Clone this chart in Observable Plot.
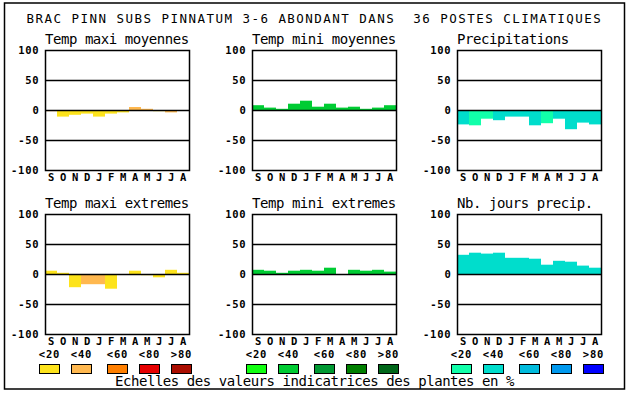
<!DOCTYPE html>
<html><head><meta charset="utf-8">
<script src="https://cdn.jsdelivr.net/npm/d3@7"></script>
<script src="https://cdn.jsdelivr.net/npm/@observablehq/plot@0.6"></script>
<style>
body{margin:0;background:#fff;}
#chart{position:relative;width:630px;height:394px;background:#fff;overflow:hidden;}
#chart svg{position:absolute;}
#chart text{white-space:pre;}
</style></head><body><div id="chart"></div>
<script>
// ---- data ----
const months = ["S","O","N","D","J","F","M","A","M","J","J","A"];
const yTicks = [-100, -50, 0, 50, 100];
const gridLines = [-50, 0, 50];
const legendLabels = ["<20", "<40", "<60", "<80", ">80"];
const mainTitle = "BRAC PINN SUBS PINNATUM 3-6 ABONDANT DANS  36 POSTES CLIMATIQUES";
const footer = "Echelles des valeurs indicatrices des plantes en %";

const redScale = ["#fde31c", "#ffb84f", "#ff7f00", "#e60000", "#aa0d00"];
const greenScale = ["#11ff11", "#00cc33", "#009933", "#007f00", "#006619"];
const blueScale = ["#11ffaa", "#00ddcc", "#00bbdd", "#0099ee", "#0000ff"];

const titles = ["Temp maxi moyennes", "Temp mini moyennes", "Precipitations",
                "Temp maxi extremes", "Temp mini extremes", "Nb. jours precip."];

const tmaxMoy    = [-2, -11, -8, -6, -11, -6, -4, 5, 2, -2, -4, 0];
const tmaxMoyCls = [2, 1, 1, 1, 1, 1, 1, 2, 2, 1, 2, 1];
const tminMoy    = [8, 4, 2, 10.5, 15.5, 5.5, 10.5, 4, 5.5, 2, 4, 8];
const tminMoyCls = [2, 2, 2, 2, 2, 2, 2, 2, 2, 2, 2, 2];
const precip     = [-24, -25.5, -14.5, -17, -11, -11, -25.5, -22, -14.5, -32, -21, -24];
const precipCls  = [2, 1, 1, 2, 2, 2, 2, 1, 2, 2, 2, 2];
const tmaxExt    = [5.5, 2, -22, -17, -17, -24.5, 0, 5.5, -2, -5.5, 7, 2];
const tmaxExtCls = [1, 1, 1, 2, 2, 1, 1, 1, 1, 1, 1, 1];
const tminExt    = [7, 5.5, 2, 5.5, 7, 5.5, 10.5, 0, 7, 5.5, 7, 4];
const tminExtCls = [2, 2, 2, 2, 2, 2, 2, 2, 2, 2, 2, 2];
const nbJours    = [32, 35.5, 34, 35.5, 27, 27, 25.5, 15.5, 22, 20.5, 14, 10.5];
const nbJoursCls = [2, 2, 2, 2, 2, 2, 2, 2, 2, 2, 2, 2];

// ---- layout ----
const plotLefts = [45, 252, 457];
const plotTops = [50, 214];
const PW = 144, PH = 120;
const ML = 45, MR = 12, MT = 20, MB = 22;

const panels = [
  {v: tmaxMoy, c: tmaxMoyCls, pal: redScale},
  {v: tminMoy, c: tminMoyCls, pal: greenScale},
  {v: precip, c: precipCls, pal: blueScale},
  {v: tmaxExt, c: tmaxExtCls, pal: redScale},
  {v: tminExt, c: tminExtCls, pal: greenScale},
  {v: nbJours, c: nbJoursCls, pal: blueScale}
];

const chart = document.getElementById("chart");

panels.forEach((p, k) => {
  const col = k % 3, row = Math.floor(k / 3);
  const data = p.v.map((v, i) => ({i, v, c: p.c[i]}));
  const svg = Plot.plot({
    width: ML + PW + MR, height: MT + PH + MB,
    marginLeft: ML, marginRight: MR, marginTop: MT, marginBottom: MB,
    style: {fontFamily: "DejaVu Sans Mono", fontSize: "10.5px", fontWeight: "bold",
            letterSpacing: "0.8px", background: "transparent", overflow: "visible", color: "black"},
    x: {type: "band", domain: d3.range(12), padding: 0, label: null},
    y: {domain: [-100, 100], label: null},
    color: {type: "ordinal", domain: [1, 2, 3, 4, 5], range: p.pal},
    marks: [
      Plot.barY(data, {x: "i", y: "v", fill: "c"}),
      Plot.ruleY(gridLines, {stroke: "black", strokeWidth: 1.5}),
      Plot.frame({stroke: "black", strokeWidth: 1.5}),
      Plot.axisY({ticks: yTicks, tickSize: 0, tickPadding: 6, tickFormat: d => String(d), label: null, fill: "black"}),
      Plot.axisX({tickSize: 0, tickPadding: 3, tickFormat: i => months[i], label: null, fill: "black"})
    ]
  });
  svg.style.left = (plotLefts[col] - ML) + "px";
  svg.style.top = (plotTops[row] - MT) + "px";
  chart.appendChild(svg);
});

// ---- overlay: frame, titles, legend, footer ----
const ov = d3.select(chart).append("svg")
  .attr("width", 630).attr("height", 394)
  .style("left", "0px").style("top", "0px")
  .attr("font-family", "DejaVu Sans Mono");

ov.append("rect").attr("x", 4.5).attr("y", 3).attr("width", 620).attr("height", 386)
  .attr("fill", "none").attr("stroke", "black").attr("stroke-width", 1.5);

ov.append("text").attr("x", 26.5).attr("y", 23)
  .attr("font-size", 12.5).attr("letter-spacing", 1.47).text(mainTitle);

titles.forEach((t, k) => {
  const col = k % 3, row = Math.floor(k / 3);
  ov.append("text").attr("x", plotLefts[col]).attr("y", plotTops[row] - 6.5)
    .attr("font-size", 14).attr("letter-spacing", -0.45).text(t);
});

const boxOffsets = [-6, 26, 62, 94, 126];
const pals = [redScale, greenScale, blueScale];
plotLefts.forEach((L, col) => {
  boxOffsets.forEach((o, j) => {
    const x = L + o;
    ov.append("text").attr("x", x + 10.5).attr("y", 357.5)
      .attr("text-anchor", "middle").attr("font-size", 10.5).attr("font-weight", "bold")
      .attr("letter-spacing", 0.8).text(legendLabels[j]);
    ov.append("rect").attr("x", x + 0.5).attr("y", 364.5).attr("width", 20).attr("height", 9)
      .attr("fill", pals[col][j]).attr("stroke", "black").attr("stroke-width", 1);
  });
});

ov.append("text").attr("x", 115).attr("y", 385.5)
  .attr("font-size", 14).attr("letter-spacing", -0.45).text(footer);
</script></body></html>
